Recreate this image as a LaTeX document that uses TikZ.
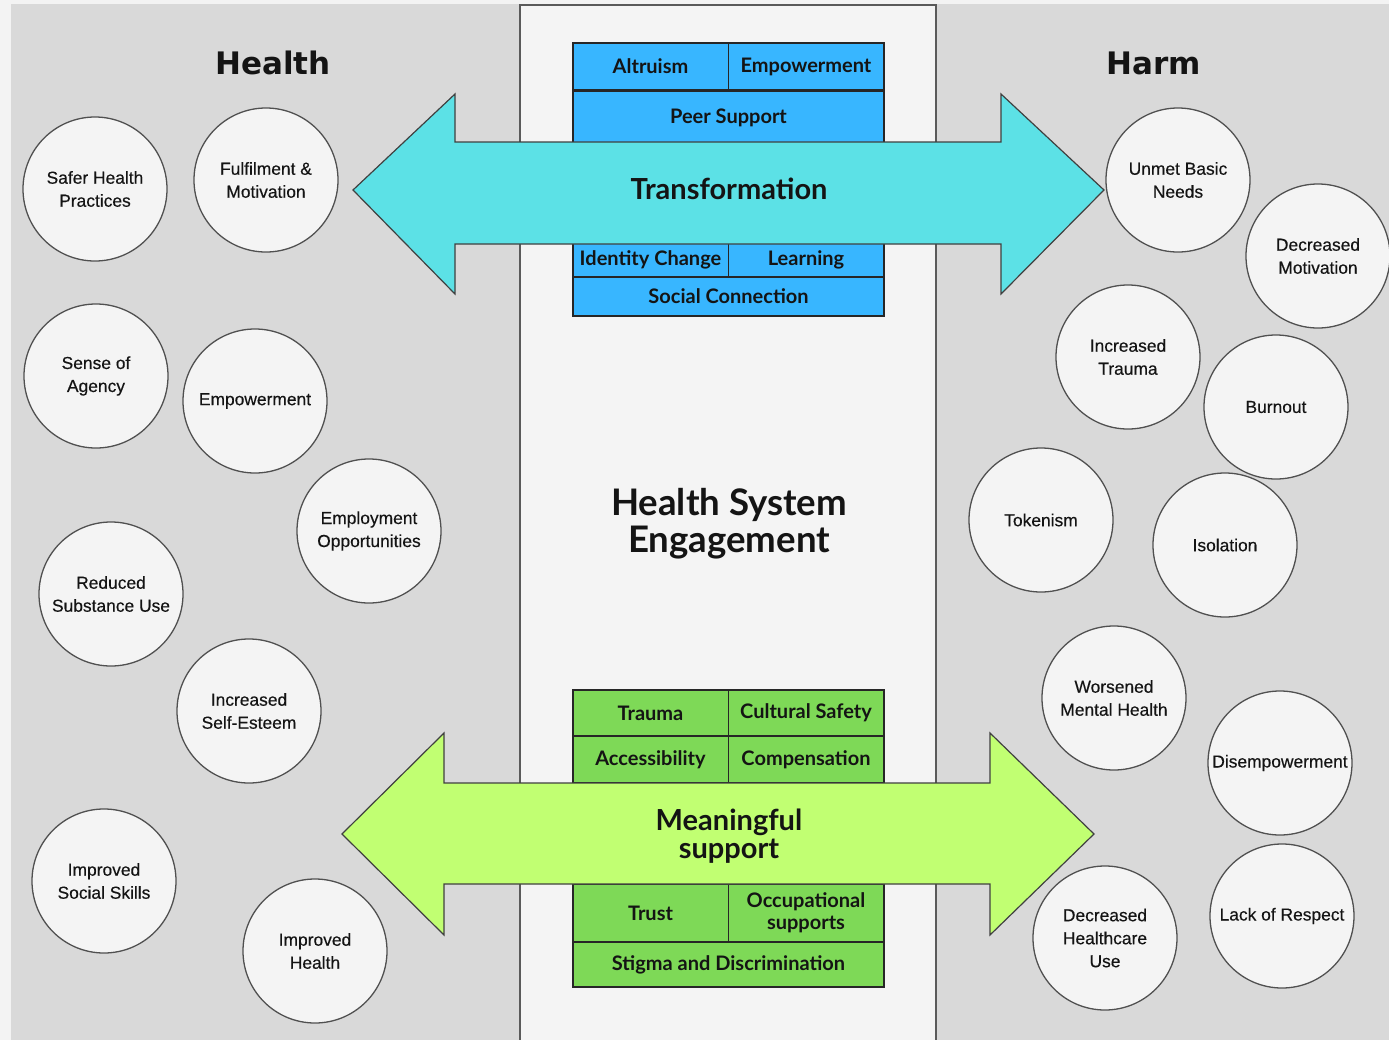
\documentclass[tikz,border=0pt]{standalone}
\usepackage{fontspec}
\setmainfont{Lato}
\newfontfamily\circfont{Liberation Sans}[BoldFont={Liberation Sans}, BoldFeatures={FakeBold=0.35}]
\newfontfamily\headfont{DejaVu Sans}
\definecolor{outerbg}{HTML}{F3F3F3}
\definecolor{graybg}{HTML}{D9D9D9}
\definecolor{colfill}{HTML}{F4F4F4}
\definecolor{colline}{HTML}{5A5A5A}
\definecolor{bluebox}{HTML}{38B6FF}
\definecolor{cyanarrow}{HTML}{5CE1E6}
\definecolor{greenbox}{HTML}{7ED957}
\definecolor{limearrow}{HTML}{C1FF72}
\definecolor{circfill}{HTML}{F4F4F4}
\definecolor{circline}{HTML}{505050}
\definecolor{txt}{HTML}{141414}
\begin{document}
\begin{tikzpicture}[x=0.5pt,y=-0.5pt,
  cbox/.style={draw=black!85, line width=0.75pt, inner sep=0pt, text=txt,
    font=\fontsize{10}{11}\selectfont\bfseries, align=center},
  tbox/.style={cbox, fill=bluebox},
  gbox/.style={cbox, fill=greenbox},
  halfw/.style={minimum width=77.75pt},
  fullw/.style={minimum width=155.5pt},
  bigarrow/.style={draw=black!75, line width=0.6pt},
  arrowtext/.style={text=txt, align=center, font=\fontsize{14.5}{14}\selectfont\bfseries},
  bubble/.style={circle, draw=circline, line width=0.65pt, fill=circfill,
    minimum size=72pt, inner sep=0pt, text=txt, align=center,
    font=\circfont\bfseries\fontsize{8.7}{11.5}\selectfont},
  header/.style={text=txt, font=\headfont\bfseries\fontsize{15.5}{17}\selectfont}
]
\useasboundingbox (0,0) rectangle (1389,1040);
\fill[outerbg] (0,0) rectangle (1389,1040);
\fill[graybg] (11,4) rectangle (1389,1040);
% central column
\fill[colfill] (520,5) rectangle (936,1042);
\draw[colline, line width=0.75pt] (520,1042) -- (520,5) -- (936,5) -- (936,1042);

% top boxes
\node[tbox, halfw, minimum height=23.5pt] (altruism) at (650.5,66.5) {Altruism};
\node[tbox, halfw, minimum height=23.5pt] (empow) at (806,66.5) {Empowerment};
\node[tbox, fullw, minimum height=26.5pt] (peer) at (728.5,117.5) {Peer Support};
\node[tbox, halfw, minimum height=17pt] (identity) at (650.5,260) {Identity Change};
\node[tbox, halfw, minimum height=17pt] (learning) at (806,260) {Learning};
\node[tbox, fullw, minimum height=19.5pt] (social) at (728.5,296.5) {Social Connection};

% bottom boxes
\node[gbox, halfw, minimum height=23pt] (trauma) at (650.5,713) {Trauma};
\node[gbox, halfw, minimum height=23pt] (cultural) at (806,713) {Cultural Safety};
\node[gbox, halfw, minimum height=23.5pt] (access) at (650.5,759.5) {Accessibility};
\node[gbox, halfw, minimum height=23.5pt] (comp) at (806,759.5) {Compensation};
\node[gbox, halfw, minimum height=29pt] (trust) at (650.5,913) {Trust};
\node[gbox, halfw, minimum height=29pt] (occup) at (806,913) {Occupational\\supports};
\node[gbox, fullw, minimum height=22.5pt] (stigma) at (728.5,964.5) {Stigma and Discrimination};

% arrows
\draw[bigarrow, fill=cyanarrow] (353,190) -- (455,94) -- (455,142) -- (1001,142) -- (1001,94)
  -- (1104,190) -- (1001,294) -- (1001,244) -- (455,244) -- (455,294) -- cycle;
\node[arrowtext] (transf) at (729,189) {Transformation};
\draw[bigarrow, fill=limearrow] (342,834) -- (444,733) -- (444,783) -- (990,783) -- (990,733)
  -- (1094,834) -- (990,935) -- (990,884) -- (444,884) -- (444,935) -- cycle;
\node[arrowtext] (meaning) at (729,836) {Meaningful\\support};

% central title
\node[text=txt, align=center, font=\fontsize{18.3}{18.5}\selectfont\bfseries] (hse) at (729,524) {Health System\\Engagement};

% headers
\node[header] (health) at (273,63) {Health};
\node[header] (harm) at (1154,63) {Harm};

% health circles
\node[bubble] (c1) at (95,189) {Safer Health\\Practices};
\node[bubble] (c2) at (266,180) {Fulfilment \&\\Motivation};
\node[bubble] (c3) at (96,376) {Sense of\\Agency};
\node[bubble] (c4) at (255,401) {Empowerment};
\node[bubble] (c5) at (369,531) {Employment\\Opportunities};
\node[bubble] (c6) at (111,594) {Reduced\\Substance Use};
\node[bubble] (c7) at (249,711) {Increased\\Self-Esteem};
\node[bubble] (c8) at (104,881) {Improved\\Social Skills};
\node[bubble] (c9) at (315,951) {Improved\\Health};

% harm circles
\node[bubble] (h1) at (1178,180) {Unmet Basic\\Needs};
\node[bubble] (h2) at (1318,256) {Decreased\\Motivation};
\node[bubble] (h3) at (1128,357) {Increased\\Trauma};
\node[bubble] (h4) at (1276,407) {Burnout};
\node[bubble] (h5) at (1041,520) {Tokenism};
\node[bubble] (h6) at (1225,545) {Isolation};
\node[bubble] (h7) at (1114,698) {Worsened\\Mental Health};
\node[bubble] (h8) at (1280,763) {Disempowerment};
\node[bubble] (h9) at (1105,938) {Decreased\\Healthcare\\Use};
\node[bubble] (h10) at (1282,916) {Lack of Respect};
\end{tikzpicture}
\end{document}
